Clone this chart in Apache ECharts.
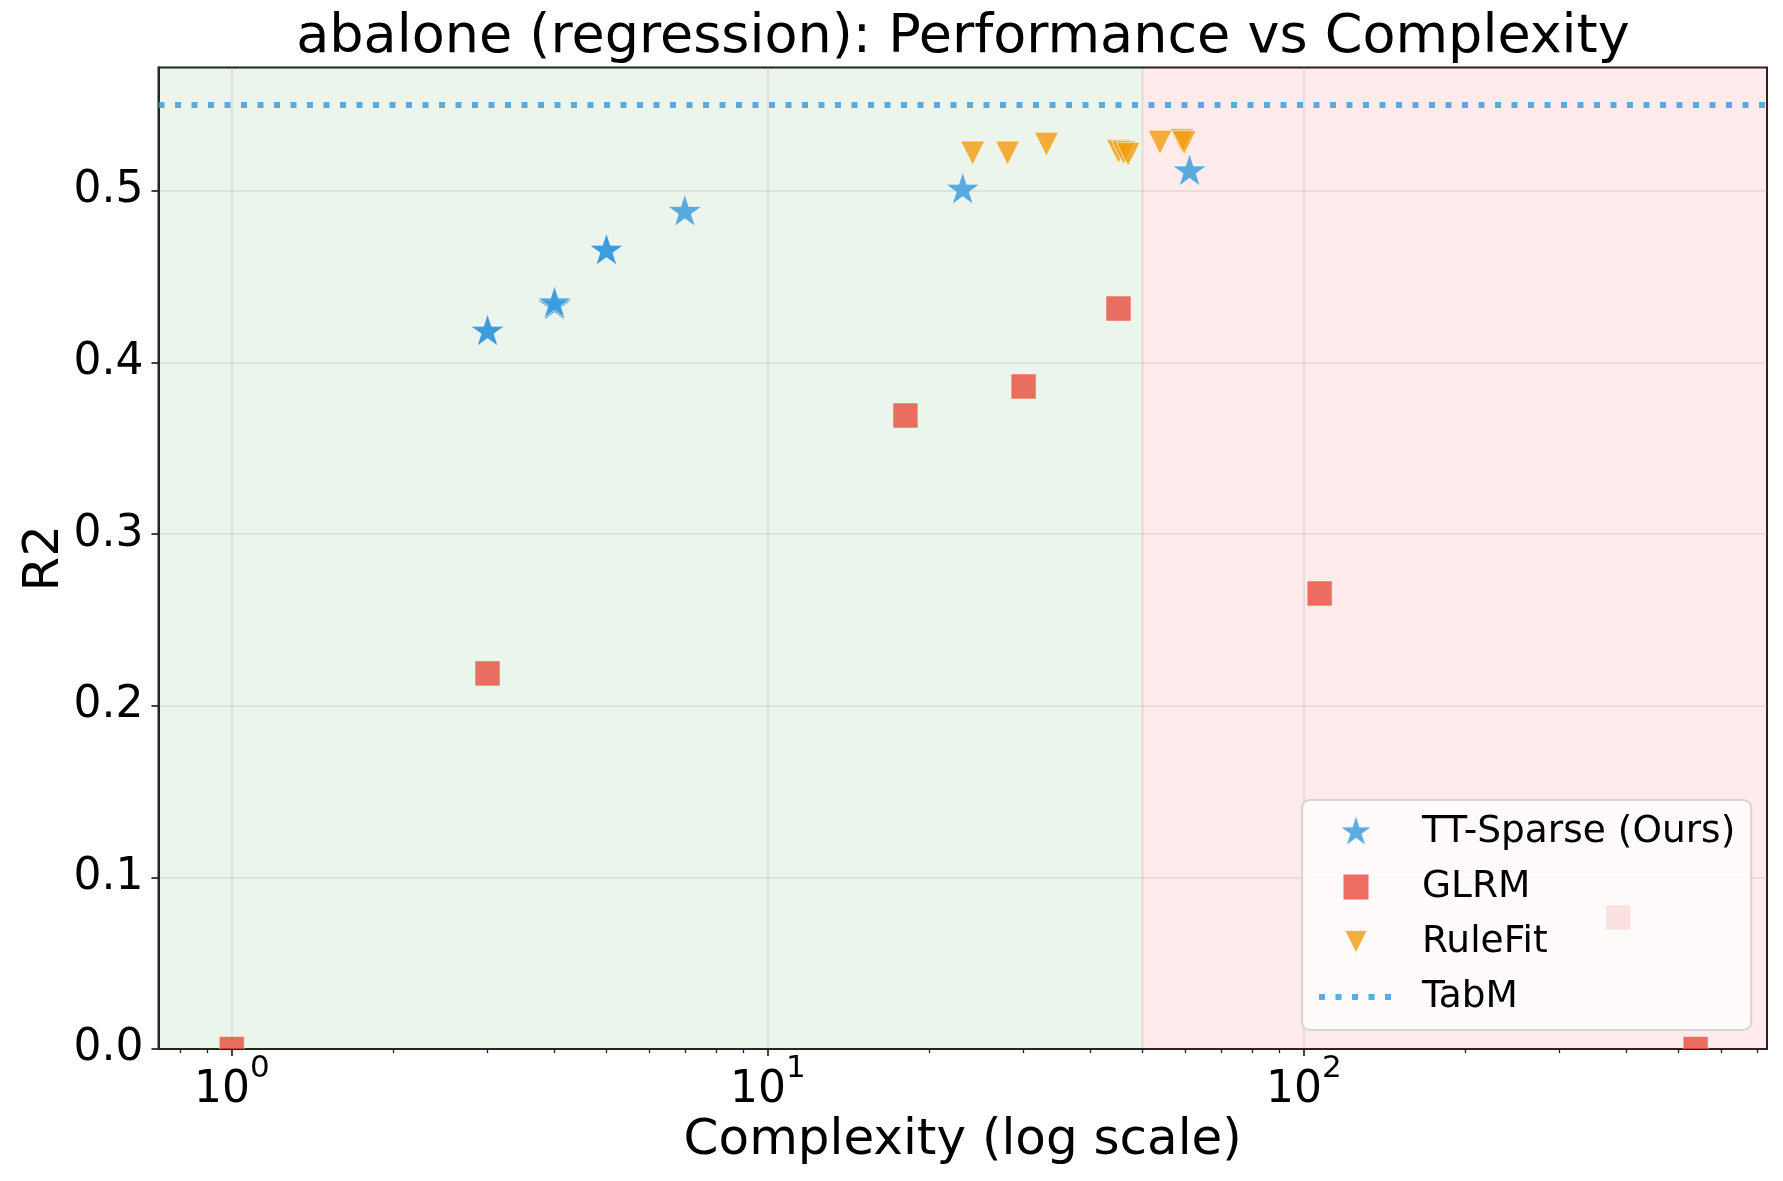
<!DOCTYPE html>
<html>
<head>
<meta charset="utf-8">
<script src="https://cdn.jsdelivr.net/npm/echarts@6/dist/echarts.min.js"></script>
<style>
  html, body { margin: 0; padding: 0; background: #fff; }
  #chart { width: 1783px; height: 1181px; }
</style>
</head>
<body>
<div id="chart"></div>
<script>
// values
const ttX = [3, 3, 4, 4, 5, 5, 7, 23.1, 61.2];
const ttY = [0.418, 0.418, 0.4332, 0.4345, 0.4652, 0.4652, 0.4878, 0.5007, 0.5114];

const glrmX = [1, 3, 18.06, 30.0, 45.1, 107, 386, 538];
const glrmY = [0, 0.2189, 0.3692, 0.3861, 0.4315, 0.2655, 0.0767, 0];

const ruleX = [24.1, 28.0, 33.1, 45.1, 46.1, 47.0, 53.9, 59.2, 59.8];
const ruleY = [0.5221, 0.5221, 0.5273, 0.5232, 0.5224, 0.5214, 0.5285, 0.5295, 0.5282];

const TABM_R2 = 0.549;
const SPLIT_X = 50;

const X_MIN = 0.73, X_MAX = 731;
const Y_MAX = 0.572;
const xMajor = [1, 10, 100];
const xMinor = [0.8, 0.9, 2, 3, 4, 5, 6, 7, 8, 9, 20, 30, 40, 50, 60, 70, 80, 90, 200, 300, 400, 500, 600, 700];
const yTicks = [0, 0.1, 0.2, 0.3, 0.4, 0.5];

const FONT = "DejaVu Sans";

// matplotlib-like star, bbox padded so the centre sits at the origin
const STAR = 'path://M0,100 M0,-100 L22.45,-30.9 L95.11,-30.9 L36.33,11.8 L58.78,80.9 L0,38.2 L-58.78,80.9 L-36.33,11.8 L-95.11,-30.9 L-22.45,-30.9 Z';
const SQUARE_ICON = 'path://M0,0 M36,36 M5.5,5.5 L30.5,5.5 L30.5,30.5 L5.5,30.5 Z';
const TRI_ICON = 'path://M0,0 M36,36 M6,6 L30,6 L18,30 Z';

const zip = (xs, ys) => xs.map((x, i) => [x, ys[i]]);

const chart = echarts.init(document.getElementById('chart'), null, { renderer: 'canvas' });

const xAxisBase = {
  type: 'log',
  logBase: 10,
  min: X_MIN,
  max: X_MAX,
  gridIndex: 0,
  position: 'bottom'
};

const option = {
  backgroundColor: '#fff',
  animation: false,
  title: {
    text: 'abalone (regression): Performance vs Complexity',
    left: 958,
    textAlign: 'center',
    top: 6,
    textStyle: { fontFamily: FONT, fontSize: 54, fontWeight: 'normal', color: '#000' }
  },
  grid: {
    left: 158.5, right: 16, top: 67.5, bottom: 132,
    show: true,
    backgroundColor: '#fff',
    borderColor: '#222',
    borderWidth: 2,
    outerBoundsMode: 'none'
  },
  legend: {
    orient: 'vertical',
    left: 1302,
    top: 800,
    padding: [13, 16, 14, 14],
    itemGap: 17,
    itemWidth: 74,
    itemHeight: 36,
    backgroundColor: 'rgba(255,255,255,0.8)',
    borderColor: 'rgba(204,204,204,0.8)',
    borderWidth: 2,
    borderRadius: 8,
    textStyle: { fontFamily: FONT, fontSize: 37.5, color: '#000', padding: [0, 0, 0, 24] },
    data: [
      { name: 'TT-Sparse (Ours)' },
      { name: 'GLRM', icon: SQUARE_ICON },
      { name: 'RuleFit', icon: TRI_ICON },
      { name: 'TabM', lineStyle: { width: 6 }, itemStyle: { opacity: 0 } }
    ]
  },
  xAxis: [
    Object.assign({}, xAxisBase, {
      name: 'Complexity (log scale)',
      nameLocation: 'middle',
      nameGap: 67,
      nameMoveOverlap: false,
      nameTextStyle: { fontFamily: FONT, fontSize: 50, color: '#000' },
      axisLine: { show: true, lineStyle: { color: '#222', width: 2 } },
      axisTick: { show: true, customValues: xMajor, length: 7, lineStyle: { color: '#222', width: 1.7 } },
      axisLabel: {
        show: true,
        customValues: xMajor,
        margin: 4,
        formatter: (v) => '{b|10}{s|' + Math.round(Math.log10(v)) + '}',
        rich: {
          b: { fontFamily: FONT, fontSize: 44, color: '#000', lineHeight: 60, verticalAlign: 'bottom' },
          s: { fontFamily: FONT, fontSize: 31, color: '#000', lineHeight: 31, verticalAlign: 'top' }
        }
      },
      splitLine: { show: true, lineStyle: { color: 'rgba(176,176,176,0.3)', width: 1.6 } },
      minorTick: { show: false },
      minorSplitLine: { show: false }
    }),
    Object.assign({}, xAxisBase, {
      axisLine: { show: false },
      axisTick: { show: true, customValues: xMinor, length: 4, lineStyle: { color: '#222', width: 1.3 } },
      axisLabel: { show: false },
      splitLine: { show: false }
    })
  ],
  yAxis: {
    type: 'value',
    min: 0,
    max: Y_MAX,
    interval: 0.1,
    name: 'R2',
    nameLocation: 'middle',
    nameGap: 88,
    nameMoveOverlap: false,
    nameTextStyle: { fontFamily: FONT, fontSize: 50, color: '#000' },
    axisLine: { show: true, lineStyle: { color: '#222', width: 2 } },
    axisTick: { show: true, customValues: yTicks, length: 7, lineStyle: { color: '#222', width: 1.7 } },
    axisLabel: {
      customValues: yTicks,
      margin: 15,
      fontFamily: FONT, fontSize: 44, color: '#000',
      formatter: (v) => v.toFixed(1)
    },
    splitLine: { show: true, lineStyle: { color: 'rgba(176,176,176,0.3)', width: 1.6 } }
  },
  series: [
    {
      // shaded interpretable / complex regions
      type: 'line',
      data: [],
      silent: true,
      z: 1,
      markArea: {
        silent: true,
        data: [
          [{ xAxis: X_MIN, itemStyle: { color: 'rgba(0,128,0,0.08)', borderColor: 'rgba(0,128,0,0.08)', borderWidth: 1.5 } }, { xAxis: SPLIT_X }],
          [{ xAxis: SPLIT_X, itemStyle: { color: 'rgba(255,0,0,0.08)', borderColor: 'rgba(255,0,0,0.08)', borderWidth: 1.5 } }, { xAxis: X_MAX }]
        ]
      }
    },
    {
      name: 'TT-Sparse (Ours)',
      type: 'scatter',
      z: 3,
      data: zip(ttX, ttY),
      symbol: STAR,
      symbolSize: [34, 35.8],
      itemStyle: { color: '#3498db', opacity: 0.8, borderColor: '#fff', borderWidth: 0.8 }
    },
    {
      name: 'GLRM',
      type: 'custom',
      z: 3,
      clip: true,
      data: zip(glrmX, glrmY),
      itemStyle: { color: '#e74c3c', opacity: 0.8 },
      renderItem: (params, api) => {
        const p = api.coord([api.value(0), api.value(1)]);
        return {
          type: 'rect',
          shape: { x: p[0] - 12.5, y: p[1] - 12.5, width: 25, height: 25 },
          style: { fill: '#e74c3c', opacity: 0.8, stroke: '#fff', lineWidth: 0.6 }
        };
      }
    },
    {
      name: 'RuleFit',
      type: 'scatter',
      z: 3,
      data: zip(ruleX, ruleY),
      symbol: 'triangle',
      symbolRotate: 180,
      symbolSize: 24,
      itemStyle: { color: '#f39c12', opacity: 0.8, borderColor: '#fff', borderWidth: 0.8 }
    },
    {
      name: 'TabM',
      type: 'line',
      z: 4,
      data: [],
      symbol: 'none',
      itemStyle: { color: '#3498db' },
      lineStyle: { color: 'rgba(52,152,219,0.8)', width: 6, type: [6, 10.5], cap: 'butt' },
      markLine: {
        silent: true,
        symbol: ['none', 'none'],
        label: { show: false },
        lineStyle: { color: 'rgba(52,152,219,0.8)', width: 6, type: [6, 10.5], cap: 'butt' },
        data: [{ yAxis: TABM_R2 }]
      }
    }
  ]
};

chart.setOption(option);
</script>
</body>
</html>
